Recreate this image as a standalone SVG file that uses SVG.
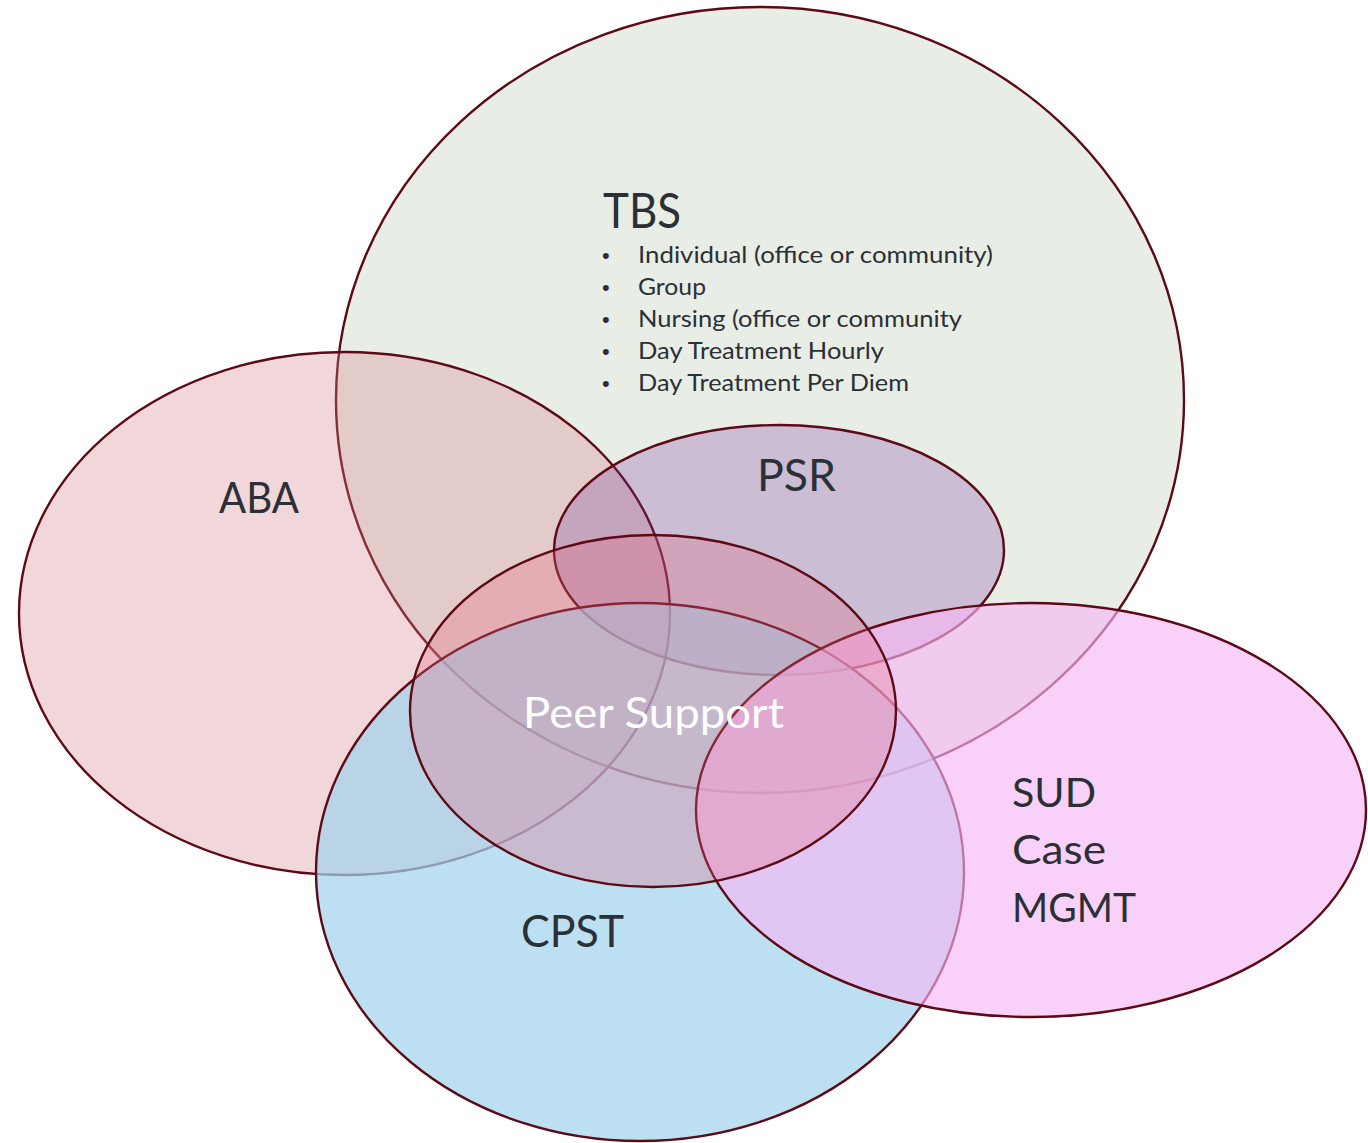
<svg xmlns="http://www.w3.org/2000/svg" width="1368" height="1143" viewBox="0 0 1368 1143">
  <style>
    .outline { stroke: #5c0a16; stroke-width: 2.4; }
    .lbl { font-family: Lato, "Noto Sans", "Liberation Sans", sans-serif; fill: #2b3036; }
    .item { font-family: Lato, "Noto Sans", "Liberation Sans", sans-serif; fill: #2b3036; font-size: 24px; }
    .bullet { font-family: "Liberation Sans", sans-serif; fill: #2b3036; font-size: 22px; }
  </style>
  <rect width="1368" height="1143" fill="#ffffff"/>
  <g id="tbs">
    <ellipse class="outline" cx="760" cy="400" rx="424" ry="393" fill="#e8ede6"/>
    <text class="lbl" x="603" y="228" font-size="48" textLength="78" lengthAdjust="spacingAndGlyphs">TBS</text>
    <text class="bullet" x="602" y="263">•</text>
    <text class="item" x="638" y="263" textLength="355" lengthAdjust="spacingAndGlyphs">Individual (office or community)</text>
    <text class="bullet" x="602" y="295">•</text>
    <text class="item" x="638" y="295" textLength="68" lengthAdjust="spacingAndGlyphs">Group</text>
    <text class="bullet" x="602" y="327">•</text>
    <text class="item" x="638" y="327" textLength="324" lengthAdjust="spacingAndGlyphs">Nursing (office or community</text>
    <text class="bullet" x="602" y="359">•</text>
    <text class="item" x="638" y="359" textLength="246" lengthAdjust="spacingAndGlyphs">Day Treatment Hourly</text>
    <text class="bullet" x="602" y="391">•</text>
    <text class="item" x="638" y="391" textLength="271" lengthAdjust="spacingAndGlyphs">Day Treatment Per Diem</text>
  </g>
  <g id="aba">
    <ellipse class="outline" cx="344.5" cy="613.5" rx="325.5" ry="261.5" fill="rgb(214,130,139)" fill-opacity="0.32"/>
    <text class="lbl" x="219" y="513" font-size="42" textLength="80" lengthAdjust="spacingAndGlyphs">ABA</text>
  </g>
  <g id="psr">
    <ellipse class="outline" cx="779" cy="550" rx="225" ry="125" fill="#7030a0" fill-opacity="0.25"/>
    <text class="lbl" x="757" y="491" font-size="44" textLength="79" lengthAdjust="spacingAndGlyphs">PSR</text>
  </g>
  <g id="cpst">
    <ellipse class="outline" cx="640" cy="872" rx="324" ry="269" fill="rgb(162,210,236)" fill-opacity="0.72"/>
    <text class="lbl" x="521" y="947" font-size="44" textLength="103" lengthAdjust="spacingAndGlyphs">CPST</text>
  </g>
  <g id="sud">
    <ellipse class="outline" cx="1031" cy="810" rx="335" ry="207" fill="rgb(246,183,244)" fill-opacity="0.64"/>
    <text class="lbl" x="1012" y="807" font-size="41" textLength="84" lengthAdjust="spacingAndGlyphs">SUD</text>
    <text class="lbl" x="1012" y="864" font-size="41" textLength="94" lengthAdjust="spacingAndGlyphs">Case</text>
    <text class="lbl" x="1012" y="922" font-size="41" textLength="124" lengthAdjust="spacingAndGlyphs">MGMT</text>
  </g>
  <g id="peer-support">
    <ellipse class="outline" cx="653" cy="711" rx="243" ry="176" fill="rgb(228,106,128)" fill-opacity="0.3"/>
    <text class="lbl" x="523" y="728" font-size="43" style="fill:#ffffff" textLength="261" lengthAdjust="spacingAndGlyphs">Peer Support</text>
  </g>
</svg>
